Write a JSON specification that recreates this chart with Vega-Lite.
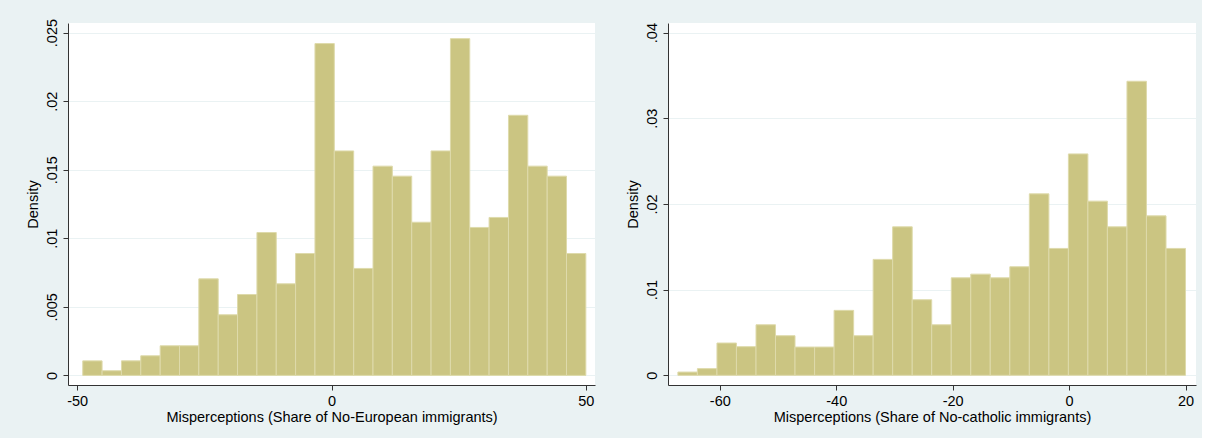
{
  "$schema": "https://vega.github.io/schema/vega-lite/v6.json",
  "background": "#eaf2f3",
  "padding": {"left": 25, "top": 18, "right": 6, "bottom": 14},
  "spacing": 30,
  "config": {
    "view": {"fill": "white", "stroke": null},
    "font": "Liberation Sans",
    "axis": {
      "labelFont": "Liberation Sans",
      "titleFont": "Liberation Sans",
      "labelFontSize": 14.5,
      "titleFontSize": 14.5,
      "titleFontWeight": "normal",
      "labelColor": "#000000",
      "titleColor": "#000000",
      "domainColor": "#333333",
      "tickColor": "#333333",
      "tickSize": 5,
      "domainWidth": 1,
      "tickWidth": 1
    }
  },
  "datasets": {
    "euro": [
      {"x0": -48.9, "x1": -45.1, "density": 0.00106},
      {"x0": -45.1, "x1": -41.29, "density": 0.00034},
      {"x0": -41.29, "x1": -37.49, "density": 0.00106},
      {"x0": -37.49, "x1": -33.68, "density": 0.00143},
      {"x0": -33.68, "x1": -29.88, "density": 0.00216},
      {"x0": -29.88, "x1": -26.08, "density": 0.00216},
      {"x0": -26.08, "x1": -22.27, "density": 0.00704},
      {"x0": -22.27, "x1": -18.47, "density": 0.00442},
      {"x0": -18.47, "x1": -14.66, "density": 0.0059},
      {"x0": -14.66, "x1": -10.86, "density": 0.01042},
      {"x0": -10.86, "x1": -7.06, "density": 0.00668},
      {"x0": -7.06, "x1": -3.25, "density": 0.00889},
      {"x0": -3.25, "x1": 0.55, "density": 0.0242},
      {"x0": 0.55, "x1": 4.36, "density": 0.01637},
      {"x0": 4.36, "x1": 8.16, "density": 0.0078},
      {"x0": 8.16, "x1": 11.96, "density": 0.01526},
      {"x0": 11.96, "x1": 15.77, "density": 0.01453},
      {"x0": 15.77, "x1": 19.57, "density": 0.01117},
      {"x0": 19.57, "x1": 23.38, "density": 0.01637},
      {"x0": 23.38, "x1": 27.18, "density": 0.02456},
      {"x0": 27.18, "x1": 30.98, "density": 0.01079},
      {"x0": 30.98, "x1": 34.79, "density": 0.01152},
      {"x0": 34.79, "x1": 38.59, "density": 0.01897},
      {"x0": 38.59, "x1": 42.4, "density": 0.01526},
      {"x0": 42.4, "x1": 46.2, "density": 0.01453},
      {"x0": 46.2, "x1": 50.0, "density": 0.00889}
    ],
    "cath": [
      {"x0": -67.2, "x1": -63.85, "density": 0.00038},
      {"x0": -63.85, "x1": -60.49, "density": 0.00078},
      {"x0": -60.49, "x1": -57.14, "density": 0.00377},
      {"x0": -57.14, "x1": -53.78, "density": 0.00334},
      {"x0": -53.78, "x1": -50.43, "density": 0.0059},
      {"x0": -50.43, "x1": -47.08, "density": 0.00462},
      {"x0": -47.08, "x1": -43.72, "density": 0.0033},
      {"x0": -43.72, "x1": -40.37, "density": 0.0033},
      {"x0": -40.37, "x1": -37.01, "density": 0.00758},
      {"x0": -37.01, "x1": -33.66, "density": 0.00462},
      {"x0": -33.66, "x1": -30.31, "density": 0.01353},
      {"x0": -30.31, "x1": -26.95, "density": 0.01733},
      {"x0": -26.95, "x1": -23.6, "density": 0.00882},
      {"x0": -23.6, "x1": -20.24, "density": 0.0059},
      {"x0": -20.24, "x1": -16.89, "density": 0.01138},
      {"x0": -16.89, "x1": -13.54, "density": 0.01181},
      {"x0": -13.54, "x1": -10.18, "density": 0.01138},
      {"x0": -10.18, "x1": -6.83, "density": 0.01267},
      {"x0": -6.83, "x1": -3.47, "density": 0.02118},
      {"x0": -3.47, "x1": -0.12, "density": 0.01481},
      {"x0": -0.12, "x1": 3.23, "density": 0.02584},
      {"x0": 3.23, "x1": 6.58, "density": 0.02033},
      {"x0": 6.58, "x1": 9.94, "density": 0.01733},
      {"x0": 9.94, "x1": 13.29, "density": 0.03432},
      {"x0": 13.29, "x1": 16.65, "density": 0.01861},
      {"x0": 16.65, "x1": 20.0, "density": 0.01481}
    ]
  },
  "hconcat": [
    {
      "width": 527,
      "height": 362,
      "data": {"name": "euro"},
      "mark": {"type": "rect", "fill": "#cbc582", "stroke": "#dedaab", "strokeWidth": 1},
      "encoding": {
        "x": {
          "field": "x0", "type": "quantitative",
          "scale": {"domain": [-51.8, 51.8], "nice": false, "zero": false},
          "axis": {"values": [-50, 0, 50], "grid": false, "title": "Misperceptions (Share of No-European immigrants)", "labelPadding": 4, "titlePadding": 3, "labelExpr": "'' + datum.value"}
        },
        "x2": {"field": "x1"},
        "y": {
          "field": "density", "type": "quantitative",
          "scale": {"domain": [-0.0007, 0.0257], "nice": false, "zero": false},
          "axis": {"values": [0, 0.005, 0.01, 0.015, 0.02, 0.025], "grid": true, "gridColor": "#eaf2f3", "gridWidth": 1, "labelAngle": -90, "labelAlign": "center", "labelBaseline": "bottom", "labelPadding": 4, "titlePadding": 4, "title": "Density",
            "labelExpr": "datum.value == 0 ? '0' : slice(format(datum.value, '~g'), 1)"}
        },
        "y2": {"datum": 0}
      }
    },
    {
      "width": 528,
      "height": 362,
      "data": {"name": "cath"},
      "mark": {"type": "rect", "fill": "#cbc582", "stroke": "#dedaab", "strokeWidth": 1},
      "encoding": {
        "x": {
          "field": "x0", "type": "quantitative",
          "scale": {"domain": [-68.9, 21.8], "nice": false, "zero": false},
          "axis": {"values": [-60, -40, -20, 0, 20], "grid": false, "title": "Misperceptions (Share of No-catholic immigrants)", "labelPadding": 4, "titlePadding": 3, "labelExpr": "'' + datum.value"}
        },
        "x2": {"field": "x1"},
        "y": {
          "field": "density", "type": "quantitative",
          "scale": {"domain": [-0.00113, 0.04112], "nice": false, "zero": false},
          "axis": {"values": [0, 0.01, 0.02, 0.03, 0.04], "grid": true, "gridColor": "#eaf2f3", "gridWidth": 1, "labelAngle": -90, "labelAlign": "center", "labelBaseline": "bottom", "labelPadding": 4, "titlePadding": 4, "title": "Density",
            "labelExpr": "datum.value == 0 ? '0' : slice(format(datum.value, '~g'), 1)"}
        },
        "y2": {"datum": 0}
      }
    }
  ]
}
